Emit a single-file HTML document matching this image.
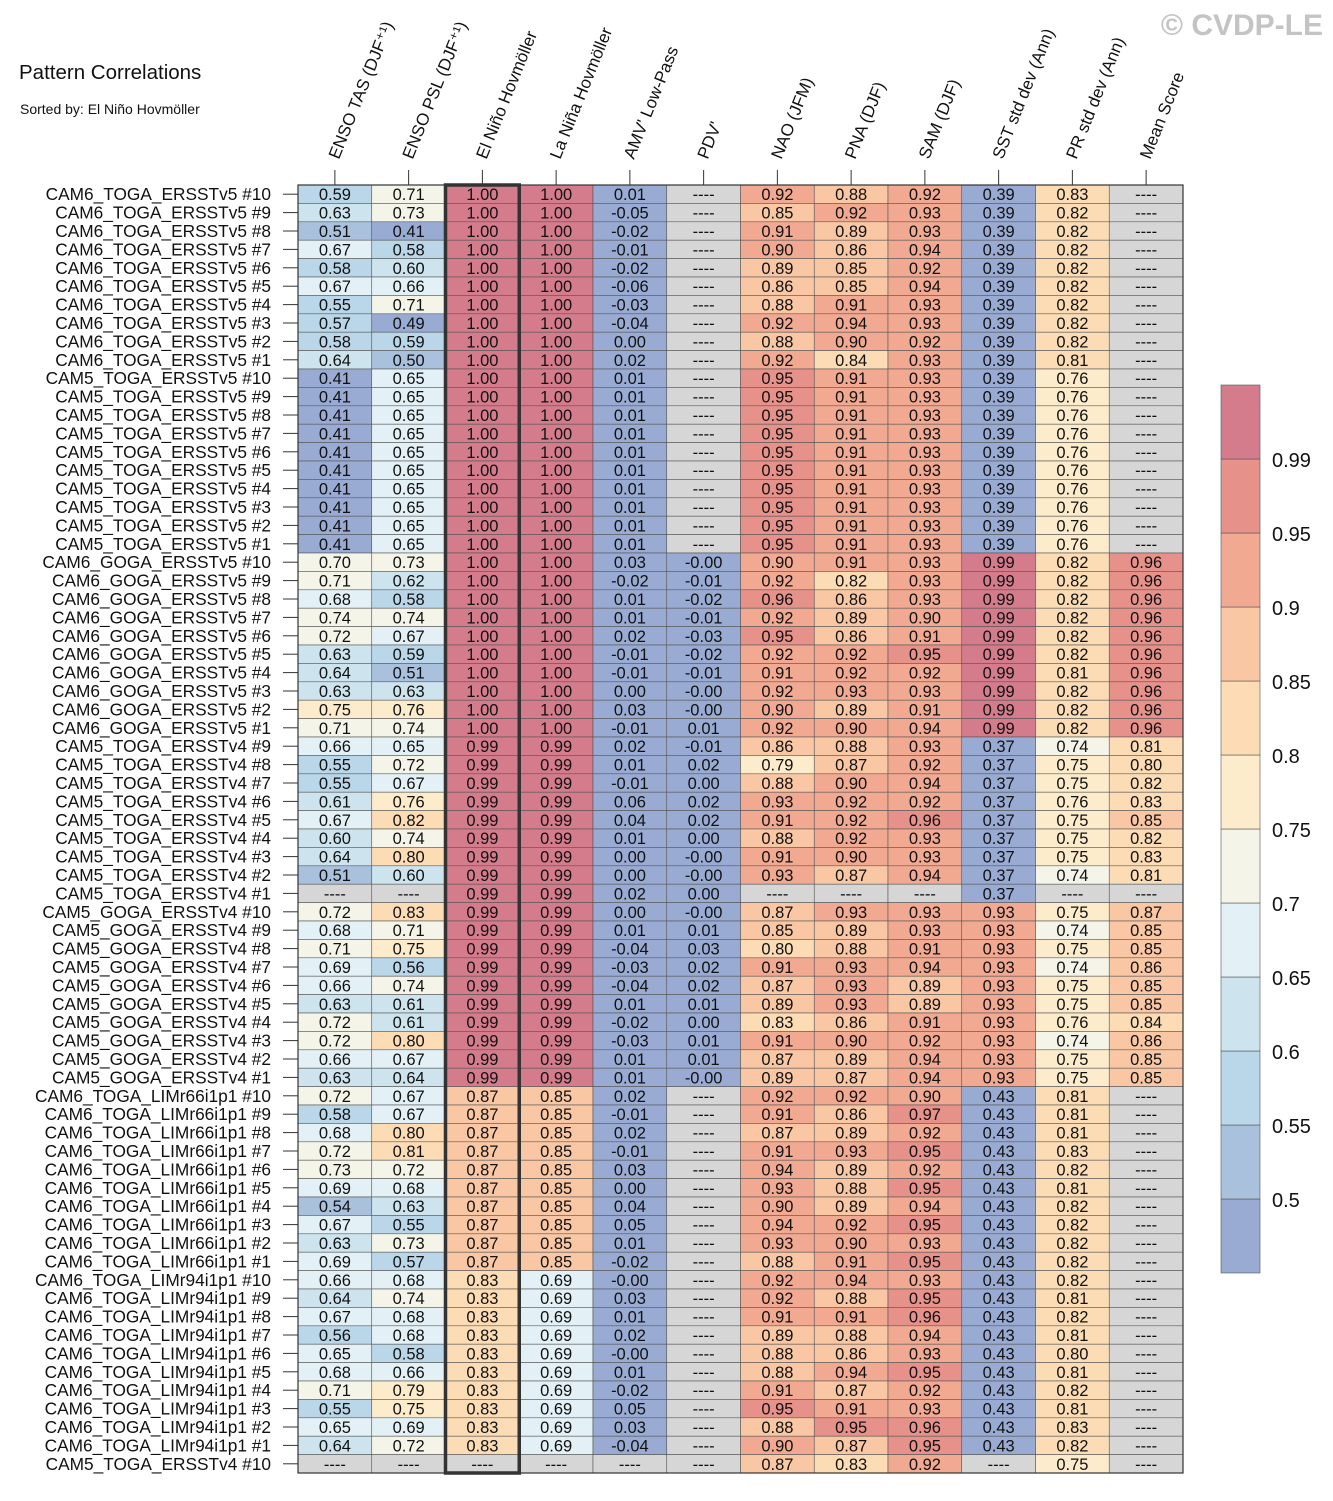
<!DOCTYPE html>
<html><head><meta charset="utf-8">
<style>
body{margin:0;background:#fff;}
svg text{font-family:"Liberation Sans",sans-serif;}
</style></head>
<body>
<svg id="chart" width="1333" height="1496" xmlns="http://www.w3.org/2000/svg">
<text x="19" y="79" font-size="20.5" fill="#111">Pattern Correlations</text>
<text x="20" y="114" font-size="14" fill="#111">Sorted by: El Niño Hovmöller</text>
<text x="1323" y="35" font-size="30" font-weight="bold" fill="#c4c4c4" text-anchor="end">© CVDP-LE</text>
<g id="grid"></g>
<g id="cbar"></g>
</svg>
<script>
const columns=["ENSO TAS (DJF⁺¹)","ENSO PSL (DJF⁺¹)","El Niño Hovmöller","La Niña Hovmöller","AMV' Low-Pass","PDV'","NAO (JFM)","PNA (DJF)","SAM (DJF)","SST std dev (Ann)","PR std dev (Ann)","Mean Score"];
const rowLabels=[];
const N=null;
function grp(p,ids){ids.forEach(i=>rowLabels.push(p+" #"+i));}
grp("CAM6_TOGA_ERSSTv5",[10,9,8,7,6,5,4,3,2,1]);
grp("CAM5_TOGA_ERSSTv5",[10,9,8,7,6,5,4,3,2,1]);
grp("CAM6_GOGA_ERSSTv5",[10,9,8,7,6,5,4,3,2,1]);
grp("CAM5_TOGA_ERSSTv4",[9,8,7,6,5,4,3,2,1]);
grp("CAM5_GOGA_ERSSTv4",[10,9,8,7,6,5,4,3,2,1]);
grp("CAM6_TOGA_LIMr66i1p1",[10,9,8,7,6,5,4,3,2,1]);
grp("CAM6_TOGA_LIMr94i1p1",[10,9,8,7,6,5,4,3,2,1]);
grp("CAM5_TOGA_ERSSTv4",[10]);
const values=[
[0.59,0.71,1.00,1.00,0.01,N,0.92,0.88,0.92,0.39,0.83,N],
[0.63,0.73,1.00,1.00,-0.05,N,0.85,0.92,0.93,0.39,0.82,N],
[0.51,0.41,1.00,1.00,-0.02,N,0.91,0.89,0.93,0.39,0.82,N],
[0.67,0.58,1.00,1.00,-0.01,N,0.90,0.86,0.94,0.39,0.82,N],
[0.58,0.60,1.00,1.00,-0.02,N,0.89,0.85,0.92,0.39,0.82,N],
[0.67,0.66,1.00,1.00,-0.06,N,0.86,0.85,0.94,0.39,0.82,N],
[0.55,0.71,1.00,1.00,-0.03,N,0.88,0.91,0.93,0.39,0.82,N],
[0.57,0.49,1.00,1.00,-0.04,N,0.92,0.94,0.93,0.39,0.82,N],
[0.58,0.59,1.00,1.00,0.00,N,0.88,0.90,0.92,0.39,0.82,N],
[0.64,0.50,1.00,1.00,0.02,N,0.92,0.84,0.93,0.39,0.81,N],
[0.41,0.65,1.00,1.00,0.01,N,0.95,0.91,0.93,0.39,0.76,N],
[0.41,0.65,1.00,1.00,0.01,N,0.95,0.91,0.93,0.39,0.76,N],
[0.41,0.65,1.00,1.00,0.01,N,0.95,0.91,0.93,0.39,0.76,N],
[0.41,0.65,1.00,1.00,0.01,N,0.95,0.91,0.93,0.39,0.76,N],
[0.41,0.65,1.00,1.00,0.01,N,0.95,0.91,0.93,0.39,0.76,N],
[0.41,0.65,1.00,1.00,0.01,N,0.95,0.91,0.93,0.39,0.76,N],
[0.41,0.65,1.00,1.00,0.01,N,0.95,0.91,0.93,0.39,0.76,N],
[0.41,0.65,1.00,1.00,0.01,N,0.95,0.91,0.93,0.39,0.76,N],
[0.41,0.65,1.00,1.00,0.01,N,0.95,0.91,0.93,0.39,0.76,N],
[0.41,0.65,1.00,1.00,0.01,N,0.95,0.91,0.93,0.39,0.76,N],
[0.70,0.73,1.00,1.00,0.03,-0.00,0.90,0.91,0.93,0.99,0.82,0.96],
[0.71,0.62,1.00,1.00,-0.02,-0.01,0.92,0.82,0.93,0.99,0.82,0.96],
[0.68,0.58,1.00,1.00,0.01,-0.02,0.96,0.86,0.93,0.99,0.82,0.96],
[0.74,0.74,1.00,1.00,0.01,-0.01,0.92,0.89,0.90,0.99,0.82,0.96],
[0.72,0.67,1.00,1.00,0.02,-0.03,0.95,0.86,0.91,0.99,0.82,0.96],
[0.63,0.59,1.00,1.00,-0.01,-0.02,0.92,0.92,0.95,0.99,0.82,0.96],
[0.64,0.51,1.00,1.00,-0.01,-0.01,0.91,0.92,0.92,0.99,0.81,0.96],
[0.63,0.63,1.00,1.00,0.00,-0.00,0.92,0.93,0.93,0.99,0.82,0.96],
[0.75,0.76,1.00,1.00,0.03,-0.00,0.90,0.89,0.91,0.99,0.82,0.96],
[0.71,0.74,1.00,1.00,-0.01,0.01,0.92,0.90,0.94,0.99,0.82,0.96],
[0.66,0.65,0.99,0.99,0.02,-0.01,0.86,0.88,0.93,0.37,0.74,0.81],
[0.55,0.72,0.99,0.99,0.01,0.02,0.79,0.87,0.92,0.37,0.75,0.80],
[0.55,0.67,0.99,0.99,-0.01,0.00,0.88,0.90,0.94,0.37,0.75,0.82],
[0.61,0.76,0.99,0.99,0.06,0.02,0.93,0.92,0.92,0.37,0.76,0.83],
[0.67,0.82,0.99,0.99,0.04,0.02,0.91,0.92,0.96,0.37,0.75,0.85],
[0.60,0.74,0.99,0.99,0.01,0.00,0.88,0.92,0.93,0.37,0.75,0.82],
[0.64,0.80,0.99,0.99,0.00,-0.00,0.91,0.90,0.93,0.37,0.75,0.83],
[0.51,0.60,0.99,0.99,0.00,-0.00,0.93,0.87,0.94,0.37,0.74,0.81],
[N,N,0.99,0.99,0.02,0.00,N,N,N,0.37,N,N],
[0.72,0.83,0.99,0.99,0.00,-0.00,0.87,0.93,0.93,0.93,0.75,0.87],
[0.68,0.71,0.99,0.99,0.01,0.01,0.85,0.89,0.93,0.93,0.74,0.85],
[0.71,0.75,0.99,0.99,-0.04,0.03,0.80,0.88,0.91,0.93,0.75,0.85],
[0.69,0.56,0.99,0.99,-0.03,0.02,0.91,0.93,0.94,0.93,0.74,0.86],
[0.66,0.74,0.99,0.99,-0.04,0.02,0.87,0.93,0.89,0.93,0.75,0.85],
[0.63,0.61,0.99,0.99,0.01,0.01,0.89,0.93,0.89,0.93,0.75,0.85],
[0.72,0.61,0.99,0.99,-0.02,0.00,0.83,0.86,0.91,0.93,0.76,0.84],
[0.72,0.80,0.99,0.99,-0.03,0.01,0.91,0.90,0.92,0.93,0.74,0.86],
[0.66,0.67,0.99,0.99,0.01,0.01,0.87,0.89,0.94,0.93,0.75,0.85],
[0.63,0.64,0.99,0.99,0.01,-0.00,0.89,0.87,0.94,0.93,0.75,0.85],
[0.72,0.67,0.87,0.85,0.02,N,0.92,0.92,0.90,0.43,0.81,N],
[0.58,0.67,0.87,0.85,-0.01,N,0.91,0.86,0.97,0.43,0.81,N],
[0.68,0.80,0.87,0.85,0.02,N,0.87,0.89,0.92,0.43,0.81,N],
[0.72,0.81,0.87,0.85,-0.01,N,0.91,0.93,0.95,0.43,0.83,N],
[0.73,0.72,0.87,0.85,0.03,N,0.94,0.89,0.92,0.43,0.82,N],
[0.69,0.68,0.87,0.85,0.00,N,0.93,0.88,0.95,0.43,0.81,N],
[0.54,0.63,0.87,0.85,0.04,N,0.90,0.89,0.94,0.43,0.82,N],
[0.67,0.55,0.87,0.85,0.05,N,0.94,0.92,0.95,0.43,0.82,N],
[0.63,0.73,0.87,0.85,0.01,N,0.93,0.90,0.93,0.43,0.82,N],
[0.69,0.57,0.87,0.85,-0.02,N,0.88,0.91,0.95,0.43,0.82,N],
[0.66,0.68,0.83,0.69,-0.00,N,0.92,0.94,0.93,0.43,0.82,N],
[0.64,0.74,0.83,0.69,0.03,N,0.92,0.88,0.95,0.43,0.81,N],
[0.67,0.68,0.83,0.69,0.01,N,0.91,0.91,0.96,0.43,0.82,N],
[0.56,0.68,0.83,0.69,0.02,N,0.89,0.88,0.94,0.43,0.81,N],
[0.65,0.58,0.83,0.69,-0.00,N,0.88,0.86,0.93,0.43,0.80,N],
[0.68,0.66,0.83,0.69,0.01,N,0.88,0.94,0.95,0.43,0.81,N],
[0.71,0.79,0.83,0.69,-0.02,N,0.91,0.87,0.92,0.43,0.82,N],
[0.55,0.75,0.83,0.69,0.05,N,0.95,0.91,0.93,0.43,0.81,N],
[0.65,0.69,0.83,0.69,0.03,N,0.88,0.95,0.96,0.43,0.83,N],
[0.64,0.72,0.83,0.69,-0.04,N,0.90,0.87,0.95,0.43,0.82,N],
[N,N,N,N,N,N,0.87,0.83,0.92,N,0.75,N]
];
const levels=[0.5,0.55,0.6,0.65,0.7,0.75,0.8,0.85,0.9,0.95,0.99];
const levelLabels=["0.5","0.55","0.6","0.65","0.7","0.75","0.8","0.85","0.9","0.95","0.99"];
const palette=["#99abd3","#a9c1dd","#bad6e9","#cde4ef","#e3f1f6","#f4f4e9","#fdeccb","#fcdcb5","#f9c7a3","#f1a992","#e7918b","#d47b8c"];
const highlightCol=2;

const NS="http://www.w3.org/2000/svg";
const X0=298,X1=1183,Y0=185,Y1=1473;
const nC=columns.length,nR=rowLabels.length;
const cw=(X1-X0)/nC, rh=(Y1-Y0)/nR;
const xPos=c=>X0+c*cw, yPos=r=>Y0+r*rh;
function colorFor(v){if(v===null)return"#d6d6d6";let i=0;while(i<levels.length&&v>=levels[i]-1e-9)i++;return palette[i];}
function fmt(v){if(v===null)return"----";if(Object.is(v,-0))return"-0.00";return v.toFixed(2);}
function mk(tag,attrs,parent){const e=document.createElementNS(NS,tag);for(const k in attrs)e.setAttribute(k,attrs[k]);parent.appendChild(e);return e;}
const g=document.getElementById("grid");
for(let r=0;r<nR;r++){
  const t=mk("text",{x:271,y:yPos(r)+rh/2+6,"font-size":17.3,"text-anchor":"end",fill:"#111"},g);
  
  
  t.textContent=rowLabels[r];
  const tk=mk("line",{x1:283,x2:X0,y1:yPos(r)+rh/2,y2:yPos(r)+rh/2,stroke:"#333","stroke-width":1},g);
  
  
  for(let c=0;c<nC;c++){
    const v=values[r][c];
    const rc=mk("rect",{x:xPos(c),y:yPos(r),width:cw,height:rh,fill:colorFor(v),stroke:"#555","stroke-width":0.6},g);
    
    
    const tx=mk("text",{x:xPos(c)+cw/2,y:yPos(r)+rh/2+6,"font-size":16.5,"text-anchor":"middle",fill:"#111"},g);
    
    
    tx.textContent=fmt(v);
  }
}
for(let c=0;c<nC;c++){
  const cx=xPos(c)+cw/2;
  const tk=mk("line",{x1:cx,x2:cx,y1:170,y2:Y0,stroke:"#333","stroke-width":1},g);
  
  
  const t=mk("text",{x:0,y:0,"font-size":17,fill:"#111",transform:`translate(${cx+4},160) rotate(-68)`},g);
  
  
  t.textContent=columns[c];
}
const fr=mk("rect",{x:X0,y:Y0,width:X1-X0,height:Y1-Y0,fill:"none",stroke:"#333","stroke-width":1.2},g);


const hl=mk("rect",{x:xPos(highlightCol),y:Y0,width:cw,height:Y1-Y0,fill:"none",stroke:"#333","stroke-width":3.5},g);



const cb=document.getElementById("cbar");
const CX=1221,CW=39,CY0=385,CY1=1273,segH=(CY1-CY0)/palette.length;
for(let i=0;i<palette.length;i++){
  const s=mk("rect",{x:CX,y:CY1-(i+1)*segH,width:CW,height:segH,fill:palette[i],stroke:"#555","stroke-width":0.6},cb);
  
  
}
for(let i=0;i<levels.length;i++){
  const y=CY1-(i+1)*segH;
  const t=mk("text",{x:1272,y:y+8,"font-size":20,fill:"#111"},cb);
  
  
  t.textContent=levelLabels[i];
}
</script>
</body></html>
